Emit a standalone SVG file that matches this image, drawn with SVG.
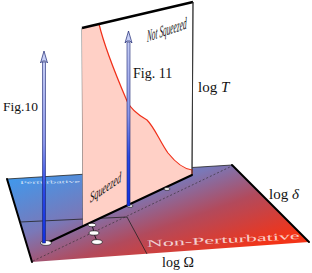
<svg xmlns="http://www.w3.org/2000/svg" width="312" height="273" viewBox="0 0 312 273">
<style>
.lbl{font-family:"Liberation Serif","DejaVu Serif",serif;fill:#111}
.reg{font-family:"Liberation Serif","DejaVu Serif",serif;fill:#fff;fill-opacity:0.75}
.thin{stroke:#222;stroke-width:0.8;fill:none}
.thick{stroke:#000;stroke-width:2;fill:none;stroke-linecap:round}
.dot{fill:#fff;stroke:#000;stroke-width:0.6}
.shaft{stroke:#1a2470;stroke-width:0.6}
.head{fill:#c8d0f6;stroke:#1a2470;stroke-width:0.7;stroke-linejoin:miter}
</style>
<defs>
<linearGradient id="baseGrad" gradientUnits="userSpaceOnUse" x1="8" y1="172" x2="60" y2="317">
<stop offset="0" stop-color="#3a9cf2"/>
<stop offset="0.42" stop-color="#7a78b8"/>
<stop offset="0.68" stop-color="#b24a5c"/>
<stop offset="1" stop-color="#f23418"/>
</linearGradient>
<linearGradient id="shaftGrad" x1="0" y1="0" x2="0" y2="1">
<stop offset="0" stop-color="#c4ccf4"/>
<stop offset="0.45" stop-color="#8894ea"/>
<stop offset="0.7" stop-color="#2a48e4"/>
<stop offset="1" stop-color="#1030e0"/>
</linearGradient>
</defs>

<g id="base-plane">
<polygon points="7,179 232,165 309,242 32,262" fill="url(#baseGrad)"/>
<line x1="7" y1="179" x2="232" y2="165" class="thin" stroke-width="0.7"/>
<line x1="7" y1="179" x2="32" y2="262" class="thick"/>
<line x1="232" y1="165" x2="309" y2="242" class="thick"/>
<text class="reg" font-size="7" textLength="60" lengthAdjust="spacingAndGlyphs" transform="matrix(1,-0.02,0,0.6,20,184)">Perturbative</text>
<text class="reg" x="147" y="247" font-size="10" textLength="153" lengthAdjust="spacingAndGlyphs" transform="rotate(-3,147,247)">Non-Perturbative</text>
</g>

<g id="connectors">
<polyline points="20,222 127,217 147,254" class="thin"/>
<line x1="33" y1="261" x2="232" y2="166" stroke="#2a2a2a" stroke-width="0.6" stroke-dasharray="2,2"/>
<line x1="92" y1="225" x2="94" y2="232" stroke="#000" stroke-width="0.8"/>
<line x1="94" y1="234" x2="97" y2="241" stroke="#000" stroke-width="0.8"/>
</g>

<g id="vertical-plane">
<polygon points="82,28 193,2 192,175 83,226" fill="#fff" stroke="#444" stroke-width="0.8"/>
<path d="M82,28 L99,24 C104,45 118,80 127,101 C131,110 140,116 147,120 C155,128 160,142 168,153 C176,163 184,169 192,170 L192,175 L83,226 Z" fill="#ffd0c6"/>
<path d="M99,24 C104,45 118,80 127,101 C131,110 140,116 147,120 C155,128 160,142 168,153 C176,163 184,169 192,170 L192,174" fill="none" stroke="#f0301a" stroke-width="1.2"/>
<line x1="82" y1="28" x2="193" y2="2" stroke="#000" stroke-width="2.5"/>
<line x1="193" y1="2" x2="192" y2="175" stroke="#333" stroke-width="1"/>
<text class="lbl" fill="#222" font-size="17" font-style="italic" transform="matrix(0.43,-0.146,0,1,147,42)">Not Squeezed</text>
<text class="lbl" fill="#222" font-size="15" font-style="italic" transform="matrix(0.56,-0.385,0,1,90,203)">Squeezed</text>
</g>

<g id="bottom-edge">
<line x1="47" y1="243" x2="192" y2="175" class="thick"/>
</g>

<g id="points">
<ellipse cx="92" cy="225" rx="4" ry="1.8" class="dot"/>
<ellipse cx="94" cy="233" rx="5" ry="2.2" class="dot"/>
<ellipse cx="97" cy="242" rx="5.5" ry="2.4" class="dot"/>
<ellipse cx="130" cy="206" rx="3" ry="1.4" class="dot"/>
<ellipse cx="167" cy="189" rx="3" ry="1.4" class="dot"/>
</g>

<g id="arrow-fig10">
<ellipse cx="46" cy="243" rx="5.5" ry="2.4" class="dot"/>
<rect x="42.5" y="62" width="3" height="181" fill="url(#shaftGrad)" class="shaft"/>
<path d="M44,51 L47.5,63 L45.5,61 L42.5,61 L40.5,63 Z" class="head"/>
<text class="lbl" x="3" y="111" font-size="13.5">Fig.10</text>
</g>

<g id="arrow-fig11">
<rect x="127" y="42" width="3" height="164" fill="url(#shaftGrad)" class="shaft"/>
<path d="M128.5,31 L132,43 L130,41 L127,41 L125,43 Z" class="head"/>
<text class="lbl" x="133" y="78" font-size="14">Fig. 11</text>
</g>

<g id="axis-labels">
<text class="lbl" x="198" y="92" font-size="15">log <tspan font-style="italic">T</tspan></text>
<text class="lbl" x="269" y="199" font-size="15">log <tspan font-style="italic">δ</tspan></text>
<text class="lbl" x="162" y="267" font-size="14">log Ω</text>
</g>
</svg>
